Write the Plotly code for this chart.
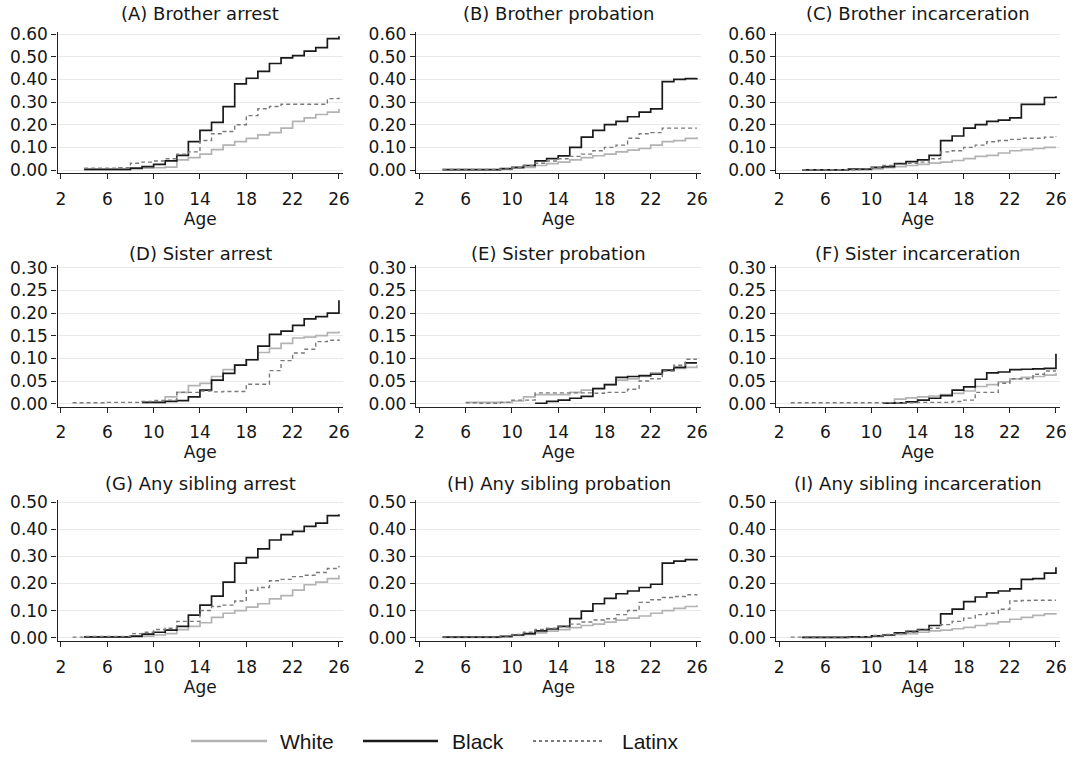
import plotly.graph_objects as go

# ---------------- data (ages 2..26, None = not observed) ----------------
AGES = list(range(2, 27))
X_TICKS = [2, 6, 10, 14, 18, 22, 26]

PANEL_TITLES = ["(A) Brother arrest", "(B) Brother probation", "(C) Brother incarceration",
                "(D) Sister arrest", "(E) Sister probation", "(F) Sister incarceration",
                "(G) Any sibling arrest", "(H) Any sibling probation", "(I) Any sibling incarceration"]
SERIES_NAMES = ["White", "Black", "Latinx"]

N = None
#            2  3  4      5      6      7      8      9      10     11     12     13     14     15     16     17     18     19     20     21     22     23     24     25     26
A_WHITE  = [N, N, 0.002, 0.002, 0.002, 0.002, 0.005, 0.008, 0.010, 0.013, 0.045, 0.055, 0.070, 0.090, 0.110, 0.125, 0.140, 0.155, 0.165, 0.185, 0.215, 0.230, 0.245, 0.255, 0.270]
A_BLACK  = [N, N, 0.003, 0.003, 0.003, 0.003, 0.008, 0.015, 0.025, 0.040, 0.065, 0.125, 0.175, 0.210, 0.280, 0.380, 0.405, 0.435, 0.470, 0.495, 0.505, 0.525, 0.540, 0.580, 0.590]
A_LATINX = [N, N, 0.008, 0.008, 0.008, 0.010, 0.030, 0.035, 0.040, 0.050, 0.070, 0.080, 0.130, 0.160, 0.170, 0.200, 0.240, 0.270, 0.280, 0.290, 0.290, 0.290, 0.290, 0.315, 0.320]

B_WHITE  = [N, N, 0.001, 0.001, 0.001, 0.001, 0.001, 0.003, 0.008, 0.012, 0.020, 0.028, 0.035, 0.045, 0.055, 0.063, 0.070, 0.080, 0.088, 0.095, 0.110, 0.125, 0.130, 0.140, 0.145]
B_BLACK  = [N, N, 0.002, 0.002, 0.002, 0.002, 0.002, 0.006, 0.012, 0.020, 0.040, 0.050, 0.062, 0.100, 0.145, 0.175, 0.200, 0.215, 0.235, 0.255, 0.270, 0.390, 0.400, 0.403, 0.405]
B_LATINX = [N, N, 0.002, 0.002, 0.002, 0.002, 0.002, 0.005, 0.010, 0.020, 0.030, 0.040, 0.050, 0.060, 0.070, 0.085, 0.100, 0.110, 0.140, 0.160, 0.165, 0.185, 0.185, 0.185, 0.185]

C_WHITE  = [N, N, 0.001, 0.001, 0.001, 0.001, 0.001, 0.001, 0.005, 0.010, 0.015, 0.020, 0.025, 0.030, 0.035, 0.042, 0.050, 0.060, 0.065, 0.075, 0.085, 0.090, 0.095, 0.100, 0.100]
C_BLACK  = [N, N, 0.001, 0.001, 0.001, 0.001, 0.004, 0.004, 0.012, 0.015, 0.028, 0.037, 0.045, 0.065, 0.130, 0.150, 0.185, 0.200, 0.215, 0.220, 0.230, 0.290, 0.290, 0.320, 0.325]
C_LATINX = [N, N, 0.001, 0.001, 0.001, 0.001, 0.001, 0.005, 0.010, 0.020, 0.025, 0.030, 0.035, 0.050, 0.080, 0.085, 0.100, 0.110, 0.125, 0.130, 0.135, 0.140, 0.140, 0.145, 0.150]

D_WHITE  = [N, N, N, N, N, N, N, 0.003, 0.003, 0.015, 0.025, 0.040, 0.045, 0.060, 0.075, 0.085, 0.097, 0.113, 0.122, 0.133, 0.145, 0.147, 0.150, 0.157, 0.160]
D_BLACK  = [N, N, N, N, N, N, N, 0.003, 0.003, 0.005, 0.007, 0.015, 0.030, 0.052, 0.067, 0.085, 0.097, 0.127, 0.153, 0.160, 0.173, 0.187, 0.192, 0.200, 0.228]
D_LATINX = [N, 0.002, 0.002, 0.002, 0.003, 0.003, 0.003, 0.005, 0.007, 0.008, 0.025, 0.025, 0.028, 0.026, 0.027, 0.027, 0.043, 0.043, 0.073, 0.095, 0.112, 0.120, 0.137, 0.140, 0.142]

E_WHITE  = [N, N, N, N, 0.003, 0.003, 0.003, 0.003, 0.006, 0.015, 0.020, 0.020, 0.020, 0.025, 0.030, 0.035, 0.042, 0.052, 0.055, 0.060, 0.068, 0.073, 0.078, 0.080, 0.085]
E_BLACK  = [N, N, N, N, N, N, N, N, N, N, 0.001, 0.005, 0.008, 0.012, 0.016, 0.033, 0.042, 0.058, 0.060, 0.062, 0.065, 0.074, 0.080, 0.090, 0.090]
E_LATINX = [N, N, N, N, 0.002, 0.001, 0.001, 0.003, 0.008, 0.008, 0.024, 0.024, 0.024, 0.024, 0.024, 0.023, 0.025, 0.025, 0.032, 0.050, 0.055, 0.072, 0.085, 0.098, 0.098]

F_WHITE  = [N, N, N, N, N, N, N, N, N, 0.002, 0.010, 0.013, 0.015, 0.017, 0.020, 0.023, 0.028, 0.038, 0.042, 0.048, 0.055, 0.058, 0.060, 0.063, 0.068]
F_BLACK  = [N, N, N, N, N, N, N, N, N, 0.001, 0.002, 0.004, 0.008, 0.012, 0.018, 0.030, 0.037, 0.054, 0.068, 0.070, 0.075, 0.076, 0.077, 0.078, 0.110]
F_LATINX = [N, 0.002, 0.002, 0.002, 0.002, 0.002, 0.002, 0.002, 0.002, 0.002, 0.002, 0.002, 0.003, 0.003, 0.003, 0.005, 0.008, 0.025, 0.025, 0.045, 0.055, 0.055, 0.065, 0.072, 0.072]

G_WHITE  = [N, N, 0.002, 0.002, 0.002, 0.002, 0.003, 0.006, 0.010, 0.015, 0.030, 0.042, 0.055, 0.075, 0.090, 0.100, 0.113, 0.125, 0.143, 0.155, 0.175, 0.195, 0.205, 0.218, 0.230]
G_BLACK  = [N, N, 0.003, 0.003, 0.003, 0.003, 0.006, 0.013, 0.020, 0.028, 0.042, 0.083, 0.120, 0.153, 0.205, 0.275, 0.295, 0.327, 0.360, 0.380, 0.392, 0.410, 0.422, 0.450, 0.455]
G_LATINX = [N, 0.002, 0.005, 0.005, 0.005, 0.005, 0.015, 0.020, 0.030, 0.035, 0.060, 0.060, 0.100, 0.115, 0.120, 0.135, 0.175, 0.185, 0.210, 0.215, 0.225, 0.230, 0.240, 0.255, 0.265]

H_WHITE  = [N, N, 0.001, 0.001, 0.001, 0.001, 0.001, 0.003, 0.008, 0.012, 0.018, 0.024, 0.030, 0.037, 0.045, 0.050, 0.057, 0.065, 0.072, 0.080, 0.090, 0.100, 0.108, 0.115, 0.120]
H_BLACK  = [N, N, 0.002, 0.002, 0.002, 0.002, 0.002, 0.005, 0.010, 0.015, 0.025, 0.032, 0.042, 0.070, 0.098, 0.125, 0.145, 0.162, 0.172, 0.185, 0.197, 0.275, 0.282, 0.288, 0.290]
H_LATINX = [N, N, 0.002, 0.002, 0.002, 0.002, 0.002, 0.006, 0.012, 0.020, 0.030, 0.035, 0.040, 0.050, 0.058, 0.065, 0.070, 0.085, 0.100, 0.130, 0.140, 0.148, 0.152, 0.158, 0.160]

I_WHITE  = [N, N, 0.001, 0.001, 0.001, 0.001, 0.001, 0.001, 0.004, 0.008, 0.012, 0.015, 0.020, 0.025, 0.028, 0.033, 0.038, 0.045, 0.052, 0.058, 0.068, 0.075, 0.082, 0.088, 0.090]
I_BLACK  = [N, N, 0.001, 0.001, 0.001, 0.001, 0.003, 0.003, 0.007, 0.010, 0.018, 0.023, 0.030, 0.045, 0.088, 0.105, 0.133, 0.150, 0.165, 0.172, 0.180, 0.215, 0.218, 0.238, 0.260]
I_LATINX = [N, 0.002, 0.002, 0.002, 0.002, 0.002, 0.002, 0.004, 0.008, 0.012, 0.015, 0.020, 0.028, 0.035, 0.048, 0.060, 0.072, 0.085, 0.090, 0.105, 0.135, 0.137, 0.138, 0.138, 0.138]

PANEL_SERIES = [
    (A_WHITE, A_BLACK, A_LATINX), (B_WHITE, B_BLACK, B_LATINX), (C_WHITE, C_BLACK, C_LATINX),
    (D_WHITE, D_BLACK, D_LATINX), (E_WHITE, E_BLACK, E_LATINX), (F_WHITE, F_BLACK, F_LATINX),
    (G_WHITE, G_BLACK, G_LATINX), (H_WHITE, H_BLACK, H_LATINX), (I_WHITE, I_BLACK, I_LATINX),
]

# row-wise y tick values
ROW_YTICKS = [
    [0.0, 0.1, 0.2, 0.3, 0.4, 0.5, 0.6],
    [0.0, 0.05, 0.10, 0.15, 0.20, 0.25, 0.30],
    [0.0, 0.1, 0.2, 0.3, 0.4, 0.5],
]

# ---------------- styling / layout ----------------
W, H = 1075, 757
FONT = "DejaVu Sans"
TXT = "#161616"
STYLES = {
    "White": dict(color="#b3b3b3", width=1.7, dash="solid"),
    "Black": dict(color="#1a1a1a", width=1.7, dash="solid"),
    "Latinx": dict(color="#7a7a7a", width=1.4, dash="4px,3px"),
}
ROW_YRANGE = [[-0.0132, 0.609], [-0.0066, 0.306], [-0.0133, 0.5074]]
COL_XPX = [(57.5, 343), (416, 701), (775.7, 1060)]
ROW_YPX = [(32, 173), (265, 406.7), (500, 641.3)]
TITLE_YPX = [13, 253, 483]


def px_x(v):
    return v / W


def px_y(v):
    return 1 - v / H


fig = go.Figure()
layout = dict(width=W, height=H, margin=dict(l=0, r=0, t=0, b=0, pad=0, autoexpand=False),
              paper_bgcolor="white", plot_bgcolor="white", showlegend=False,
              font=dict(family=FONT, color=TXT))
annotations = []
shapes = []

for p in range(9):
    r, c = divmod(p, 3)
    k = p + 1
    xa = "x" if k == 1 else f"x{k}"
    ya = "y" if k == 1 else f"y{k}"
    for name, vals in zip(SERIES_NAMES, PANEL_SERIES[p]):
        st = STYLES[name]
        fig.add_trace(go.Scatter(x=AGES, y=vals, mode="lines", name=name,
                                 line=dict(shape="hv", color=st["color"], width=st["width"], dash=st["dash"]),
                                 xaxis=xa, yaxis=ya, showlegend=False, connectgaps=False))
    x0, x1 = COL_XPX[c]
    y0, y1 = ROW_YPX[r]
    layout["xaxis" if k == 1 else f"xaxis{k}"] = dict(
        domain=[px_x(x0), px_x(x1)], anchor=ya, range=[1.7, 26.35], automargin=False,
        tickvals=X_TICKS, ticks="outside", ticklen=5, tickwidth=1.2, tickcolor="#222",
        showline=True, linecolor="#222", linewidth=1.3, showgrid=False, zeroline=False,
        tickfont=dict(size=17, family=FONT, color=TXT), ticklabelstandoff=5,
        title=dict(text="Age", font=dict(size=17, family=FONT, color=TXT), standoff=0),
        fixedrange=True)
    layout["yaxis" if k == 1 else f"yaxis{k}"] = dict(
        domain=[px_y(y1), px_y(y0)], anchor=xa, range=ROW_YRANGE[r], automargin=False,
        tickvals=ROW_YTICKS[r], tickformat=".2f", ticks="outside", ticklen=5, tickwidth=1.2,
        tickcolor="#222", showline=True, linecolor="#222", linewidth=1.3,
        showgrid=True, gridcolor="#e9e9e9", gridwidth=1.2, zeroline=False,
        tickfont=dict(size=17, family=FONT, color=TXT), fixedrange=True)
    annotations.append(dict(text=PANEL_TITLES[p], xref="paper", yref="paper",
                            x=px_x((x0 + x1) / 2), y=px_y(TITLE_YPX[r]),
                            xanchor="center", yanchor="middle", showarrow=False,
                            font=dict(size=18, family=FONT, color=TXT)))

# manual legend (long line samples as in the reference)
LEG_Y = px_y(741)
LEG_ITEMS = [("White", 191, 267, 278), ("Black", 363, 438, 450), ("Latinx", 533, 605, 620)]
for name, lx0, lx1, tx in LEG_ITEMS:
    st = STYLES[name]
    shapes.append(dict(type="line", xref="paper", yref="paper", x0=px_x(lx0), x1=px_x(lx1),
                       y0=LEG_Y, y1=LEG_Y,
                       line=dict(color=st["color"], width=2.4 if name != "Latinx" else 2,
                                 dash="dot" if name == "Latinx" else "solid")))
    annotations.append(dict(text=name, xref="paper", yref="paper", x=px_x(tx), y=LEG_Y,
                            xanchor="left", yanchor="middle", showarrow=False,
                            font=dict(size=21, family="Liberation Sans", color=TXT)))

layout["annotations"] = annotations
layout["shapes"] = shapes
fig.update_layout(**layout)
fig.write_html("out.html", config={"displayModeBar": False},
               post_script="document.body.style.margin='0';document.body.style.overflow='hidden';")
